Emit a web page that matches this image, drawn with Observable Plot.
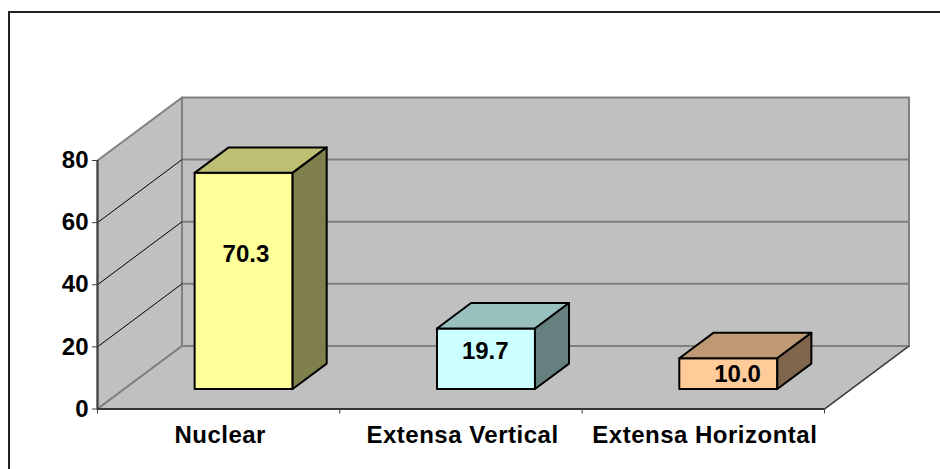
<!DOCTYPE html>
<html>
<head>
<meta charset="utf-8">
<script src="https://cdn.jsdelivr.net/npm/d3@7"></script>
<script src="https://cdn.jsdelivr.net/npm/@observablehq/plot@0.6"></script>
<style>
html,body{margin:0;padding:0;background:#fff;overflow:hidden}
#frame{position:absolute;left:8px;top:11px;width:940px;height:470px;border-left:2px solid #222;border-top:2px solid #222;box-sizing:border-box}
#chart{position:absolute;left:0;top:0}
svg{background:transparent!important}
</style>
</head>
<body>
<div id="frame"></div>
<div id="chart"></div>
<script>
// Data
const categories = ["Nuclear", "Extensa Vertical", "Extensa Horizontal"];
const values = [70.3, 19.7, 10.0];
const valueLabels = ["70.3", "19.7", "10.0"];
const yTicks = [0, 20, 40, 60, 80];

// Styles, separate from the data
const frontColors = ["#FFFF99", "#CCFFFF", "#FFCC99"];
const topColors = ["#BFBF73", "#99BFBF", "#BF9973"];
const sideColors = ["#80804D", "#668080", "#80664D"];
const labelShift = [[0.5, -27], [-2.5, -7], [7.5, 0.5]];

// Oblique projection: depth 0 = front of the chart box, depth 1 = back wall
const depthX = 0.3487, depthY = 20.3;
const proj = (x, v, d) => ({x: x + d * depthX, y: v + d * depthY});
const poly = (id, color, pts) => [...pts, pts[0]].map(([x, v, d]) => ({id, color, ...proj(x, v, d)}));

const yMax = 80, nCat = categories.length;
const walls = [
  ...poly("side", "#C0C0C0", [[0, 0, 0], [0, 0, 1], [0, yMax, 1], [0, yMax, 0]]),
  ...poly("floor", "#C0C0C0", [[0, 0, 0], [nCat, 0, 0], [nCat, 0, 1], [0, 0, 1]]),
  ...poly("back", "#C0C0C0", [[0, 0, 1], [nCat, 0, 1], [nCat, yMax, 1], [0, yMax, 1]])
];

const backGrid = yTicks.slice(1, -1).flatMap(v => [0, nCat].map(x => ({v, ...proj(x, v, 1)})));
const sideGrid = yTicks.slice(1, -1).flatMap(v => [0, 1].map(d => ({v, ...proj(0, v, d)})));

// Bars: front plane near d0, back plane near d1
const d0 = 0.317, d1 = 0.72, halfW = 0.2022, barShift = -0.0075, barK = 0.99, barFloor = 0;
const bars = values.flatMap((val, i) => {
  const c = i + 0.5 + barShift, l = c - halfW, r = c + halfW, t = val * barK;
  return [
    ...poly("f" + i, frontColors[i], [[l, barFloor, d0], [r, barFloor, d0], [r, t, d0], [l, t, d0]]),
    ...poly("t" + i, topColors[i], [[l, t, d0], [r, t, d0], [r, t, d1], [l, t, d1]]),
    ...poly("s" + i, sideColors[i], [[r, barFloor, d0], [r, barFloor, d1], [r, t, d1], [r, t, d0]])
  ];
});

const font = "Liberation Sans, Arial, sans-serif";
const labelMarks = values.map((val, i) => {
  const p = proj(i + 0.5, val * barK / 2, d0);
  return Plot.text([valueLabels[i]], {
    x: () => p.x, y: () => p.y, text: d => d,
    dx: labelShift[i][0], dy: labelShift[i][1],
    fontSize: 24, fontWeight: "bold", fill: "#000", fontFamily: font
  });
});

const plot = Plot.plot({
  width: 940, height: 469,
  marginLeft: 97, marginRight: 116, marginTop: 160, marginBottom: 60.5,
  style: {background: "transparent", fontFamily: font},
  x: {domain: [0, nCat]},
  y: {domain: [0, yMax]},
  marks: [
    Plot.line(walls, {x: "x", y: "y", z: "id", fill: "color", stroke: "#808080", strokeWidth: 2, curve: "linear"}),
    Plot.line(backGrid, {x: "x", y: "y", z: "v", stroke: "#808080", strokeWidth: 2}),
    Plot.line(sideGrid, {x: "x", y: "y", z: "v", stroke: "#000", strokeWidth: 1}),
    Plot.line([proj(nCat, 0, 0), proj(nCat, 0, 1)], {x: "x", y: "y", stroke: "#222", strokeWidth: 1}),
    Plot.ruleX([0], {y1: 0, y2: yMax, stroke: "#404040", strokeWidth: 2}),
    Plot.ruleY([0], {x1: 0, x2: nCat, stroke: "#333", strokeWidth: 2}),
    Plot.line(bars, {x: "x", y: "y", z: "id", fill: "color", stroke: "#000", strokeWidth: 2, strokeLinejoin: "round"}),
    ...labelMarks,
    Plot.axisY({ticks: yTicks, tickSize: 5, tickPadding: 4, tickFormat: d => d, label: null, fontSize: 24, fontWeight: "bold", fill: "#000", anchor: "left", stroke: "#404040"}),
    Plot.axisX({ticks: d3.range(nCat + 1), tickSize: 5, tickFormat: () => "", label: null, anchor: "bottom", stroke: "#404040"}),
    Plot.axisX({ticks: d3.range(nCat).map(i => i + 0.5), tickSize: 0, tickPadding: 17, tickFormat: d => categories[d - 0.5], label: null, fontSize: 24, fontWeight: "bold", fill: "#000", anchor: "bottom", dx: 1.5})
  ]
});
// Reference category labels are slightly letter-spaced
plot.querySelectorAll('[aria-label="x-axis tick label"] text').forEach(t => t.style.letterSpacing = "0.5px");
document.getElementById("chart").appendChild(plot);
</script>
</body>
</html>
